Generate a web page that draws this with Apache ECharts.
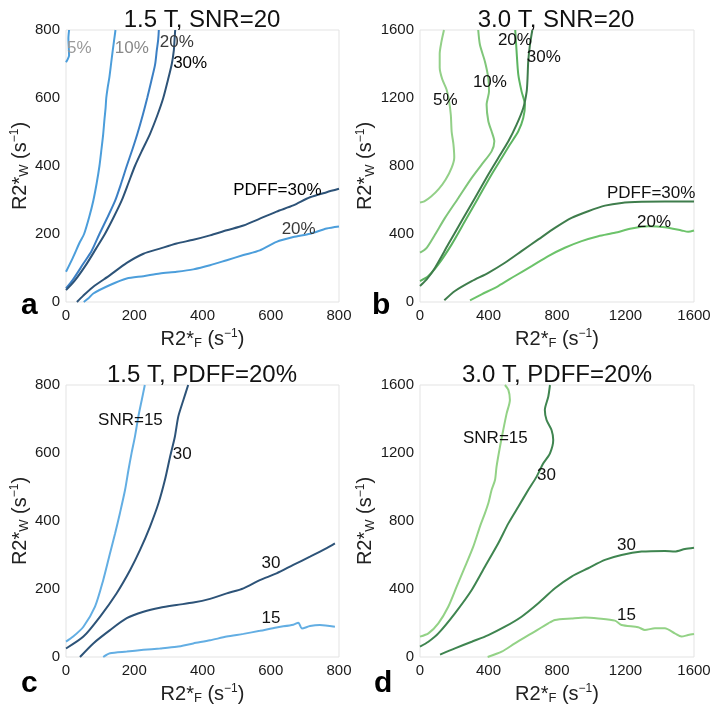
<!DOCTYPE html>
<html>
<head>
<meta charset="utf-8">
<script src="https://cdn.jsdelivr.net/npm/echarts@6/dist/echarts.min.js"></script>
<style>
html,body{margin:0;padding:0;background:#fff;}
#chart{width:721px;height:710px;}
</style>
</head>
<body>
<div id="chart"></div>
<script>
// ---------- Panel a: 1.5 T, SNR=20 (x,y pairs in s^-1) ----------
const a_pdff5  = [[0,705],[4,712],[9,725],[8,750],[7,775],[9,800]];
const a_pdff10 = [[0,89],[20,130],[40,175],[53,200],[68,250],[80,298],[90,350],[98,400],[104,450],[109,494],[113,540],[116,570],[118,600],[122,630],[127,660],[132,700],[137,740],[141,770],[145,800]];
const a_pdff20_up = [[0,40],[20,65],[51,113],[75,150],[98,200],[122,250],[144,298],[162,350],[178,400],[195,450],[209,494],[225,550],[238,600],[250,650],[261,698],[266,740],[270,770],[272,800]];
const a_pdff30_up = [[0,35],[25,62],[61,113],[88,157],[114,200],[140,250],[163,298],[183,350],[202,400],[225,450],[246,494],[268,550],[285,600],[298,650],[310,700],[316,740],[318,770],[320,800]];
const a_pdff30_lo = [[32,0],[50,18],[80,45],[129,79],[178,115],[227,142],[275,157],[324,172],[373,183],[422,196],[471,211],[520,225],[568,245],[617,266],[666,284],[715,308],[764,323],[800,333]];
const a_pdff20_lo = [[52,0],[65,10],[80,25],[129,50],[178,69],[227,76],[275,84],[324,89],[373,96],[422,108],[471,123],[520,138],[568,152],[617,177],[666,191],[715,201],[764,216],[800,222]];
const a_labels = [[3,747,'5%','#9a9a9a'],[143,745,'10%','#888'],[275,765,'20%','#3a3a3a'],[314,703,'30%','#000'],[490,329,'PDFF=30%','#000'],[632,215,'20%','#3a3a3a']];

// ---------- Panel b: 3.0 T, SNR=20 ----------
const b_pdff5  = [[0,585],[25,592],[65,620],[110,665],[150,720],[185,790],[200,850],[195,930],[185,1000],[180,1100],[170,1180],[155,1250],[130,1310],[115,1380],[115,1460],[125,1530],[140,1600]];
const b_pdff10 = [[0,290],[39,319],[88,397],[146,495],[224,612],[302,730],[360,808],[418,886],[434,945],[418,1004],[399,1063],[389,1160],[403,1239],[399,1317],[379,1415],[350,1513],[340,1600]];
const b_pdff20_up = [[0,123],[49,153],[107,221],[185,339],[263,476],[340,612],[418,750],[477,847],[525,926],[574,1004],[603,1082],[613,1160],[593,1239],[574,1337],[564,1474],[556,1600]];
const b_pdff30_up = [[0,94],[39,133],[88,202],[165,339],[243,476],[321,612],[399,750],[457,847],[516,945],[564,1043],[603,1141],[623,1239],[628,1317],[632,1415],[642,1513],[656,1600]];
const b_pdff30_lo = [[142,10],[204,65],[302,123],[399,172],[496,231],[593,299],[691,368],[788,436],[885,495],[982,534],[1080,567],[1177,583],[1294,589],[1430,591],[1600,591]];
const b_pdff20_lo = [[292,10],[360,45],[457,94],[554,153],[652,211],[749,270],[846,319],[944,358],[1041,387],[1138,407],[1235,432],[1333,446],[1430,440],[1527,421],[1566,413],[1600,421]];
const b_labels = [[455,1541,'20%','#111'],[624,1441,'30%','#111'],[309,1294,'10%','#111'],[76,1188,'5%','#111'],[1092,641,'PDFF=30%','#111'],[1267,471,'20%','#111']];

// ---------- Panel c: 1.5 T, PDFF=20% ----------
const c_snr15_up = [[0,45],[21,60],[51,89],[85,148],[109,226],[129,305],[144,364],[158,423],[173,491],[183,550],[192,599],[202,648],[212,707],[222,756],[231,800]];
const c_snr30_up = [[0,25],[51,60],[100,119],[148,187],[188,256],[217,315],[246,383],[271,452],[290,521],[305,589],[319,648],[329,707],[344,756],[358,800]];
const c_snr30_lo = [[41,0],[80,40],[129,79],[178,114],[227,133],[275,145],[324,153],[373,160],[422,171],[471,187],[520,202],[568,226],[617,246],[666,271],[715,295],[764,320],[788,334]];
const c_snr15_lo = [[109,0],[129,11],[178,16],[227,21],[275,25],[324,30],[373,40],[422,49],[471,60],[520,68],[568,77],[617,87],[666,95],[681,101],[691,84],[715,91],[744,94],[788,89]];
const c_labels = [[94,697,'SNR=15','#111'],[313,597,'30','#111'],[573,276,'30','#111'],[573,114,'15','#111']];

// ---------- Panel d: 3.0 T, PDFF=20% ----------
const d_snr15_up = [[0,120],[49,139],[107,198],[165,296],[214,414],[263,531],[311,649],[350,767],[379,845],[399,904],[418,982],[438,1041],[447,1120],[467,1237],[486,1335],[506,1433],[525,1512],[516,1571],[496,1600]];
const d_snr30_up = [[0,61],[49,90],[107,139],[204,257],[302,394],[379,531],[457,669],[516,786],[574,884],[632,982],[681,1061],[720,1139],[759,1198],[778,1276],[768,1335],[739,1394],[729,1453],[749,1531],[759,1600]];
const d_snr30_lo = [[117,14],[204,51],[302,90],[399,129],[496,178],[593,237],[691,316],[788,404],[885,473],[982,522],[1080,571],[1177,600],[1294,620],[1430,624],[1488,620],[1547,635],[1600,643]];
const d_snr15_lo = [[395,0],[477,31],[554,80],[652,139],[749,198],[788,218],[885,227],[963,233],[1041,227],[1138,214],[1177,188],[1274,175],[1313,159],[1372,169],[1430,169],[1488,139],[1527,120],[1566,129],[1600,135]];
const d_labels = [[251,1288,'SNR=15','#111'],[683,1071,'30','#111'],[1150,659,'30','#111'],[1150,247,'15','#111']];

// ---------- Panel meta ----------
const panelTitles = ['1.5 T, SNR=20','3.0 T, SNR=20','1.5 T, PDFF=20%','3.0 T, PDFF=20%'];
const panelLetters = ['a','b','c','d'];
const axisMax = [800,1600,800,1600];
const axisInterval = [200,400,200,400];

const FONT = '"Liberation Sans", Arial, sans-serif';
const grids = [
  {left:66, top:30, width:273, height:272},
  {left:420, top:30, width:274, height:272},
  {left:66, top:385, width:273, height:272},
  {left:420, top:385, width:274, height:272}
];

const nameRich = {
  base:{fontSize:20, fontFamily:FONT, color:'#222'},
  sub:{fontSize:13, fontFamily:FONT, color:'#222', verticalAlign:'bottom', padding:[9,0,0,0]},
  sup:{fontSize:12, fontFamily:FONT, color:'#222', verticalAlign:'top', padding:[0,0,9,0]}
};

const xAxes = [], yAxes = [];
for (let i=0;i<4;i++){
  xAxes.push({
    type:'value', gridIndex:i, min:0, max:axisMax[i], interval:axisInterval[i],
    axisLine:{show:false}, axisTick:{show:false}, splitLine:{show:false},
    axisLabel:{fontSize:15, color:'#1a1a1a', fontFamily:FONT, margin:6, formatter:v=>String(v)},
    name:'{base|R2*}{sub|F}{base| (s}{sup|−1}{base|)}', nameLocation:'middle', nameGap:26,
    nameTextStyle:{rich:nameRich}
  });
  yAxes.push({
    type:'value', gridIndex:i, min:0, max:axisMax[i], interval:axisInterval[i],
    axisLine:{show:false}, axisTick:{show:false}, splitLine:{show:false},
    axisLabel:{fontSize:15, color:'#1a1a1a', fontFamily:FONT, margin:6, formatter:v=>String(v)},
    name:'{base|R2*}{sub|W}{base| (s}{sup|−1}{base|)}', nameLocation:'middle', nameGap:29, nameRotate:90,
    nameTextStyle:{rich:nameRich}
  });
}

function line(data, color, idx){
  return {type:'line', data:data, xAxisIndex:idx, yAxisIndex:idx, showSymbol:false, symbol:'none',
    lineStyle:{color:color, width:2}, smooth:0.25, silent:true, z:2};
}
function labels(arr, idx){
  return {type:'scatter', xAxisIndex:idx, yAxisIndex:idx, symbolSize:0, silent:true, z:5,
    itemStyle:{opacity:1},
    data: arr.map(l=>({value:[l[0],l[1]], label:{show:true, formatter:l[2], color:l[3], fontSize:17, fontFamily:FONT}})),
    label:{show:true, position:'right', distance:0, fontSize:17, fontFamily:FONT}};
}

const lightBlue='#4c9edb', medBlue='#3b7fc4', darkBlue='#2d5378', paleBlue='#63aee3';
const g5='#93d088', g10='#80c67a', g20='#5cb460', g30='#3f7d4c', g20lo='#6cc36a', gLight='#93d286', gDark='#3f8550';

const series = [
  line(a_pdff5, lightBlue, 0), line(a_pdff10, lightBlue, 0), line(a_pdff20_up, medBlue, 0), line(a_pdff30_up, darkBlue, 0),
  line(a_pdff30_lo, darkBlue, 0), line(a_pdff20_lo, lightBlue, 0), labels(a_labels, 0),
  line(b_pdff5, g5, 1), line(b_pdff10, g10, 1), line(b_pdff20_up, g20, 1), line(b_pdff30_up, g30, 1),
  line(b_pdff30_lo, g30, 1), line(b_pdff20_lo, g20lo, 1), labels(b_labels, 1),
  line(c_snr15_up, paleBlue, 2), line(c_snr30_up, darkBlue, 2), line(c_snr30_lo, darkBlue, 2), line(c_snr15_lo, paleBlue, 2), labels(c_labels, 2),
  line(d_snr15_up, gLight, 3), line(d_snr30_up, gDark, 3), line(d_snr30_lo, gDark, 3), line(d_snr15_lo, gLight, 3), labels(d_labels, 3)
];

const titlePos = [[202,20],[556,20],[202,375],[557,375]];
const letterPos = [[21,306],[372,306],[21,684],[374,684]];
const graphic = [];
for (let i=0;i<4;i++){
  graphic.push({type:'text', x:titlePos[i][0], y:titlePos[i][1], style:{text:panelTitles[i], font:'24px '+FONT, fill:'#111', textAlign:'center', textVerticalAlign:'middle'}});
  graphic.push({type:'text', x:letterPos[i][0], y:letterPos[i][1], style:{text:panelLetters[i], font:'bold 30px '+FONT, fill:'#000', textAlign:'left', textVerticalAlign:'middle'}});
}

const chart = echarts.init(document.getElementById('chart'), null, {renderer:'canvas'});
chart.setOption({
  animation:false,
  backgroundColor:'#fff',
  grid: grids.map(g=>Object.assign({show:true, borderColor:'#e3e3e3', borderWidth:1, backgroundColor:'transparent'}, g)),
  xAxis:xAxes, yAxis:yAxes, series:series, graphic:graphic
});
</script>
</body>
</html>
